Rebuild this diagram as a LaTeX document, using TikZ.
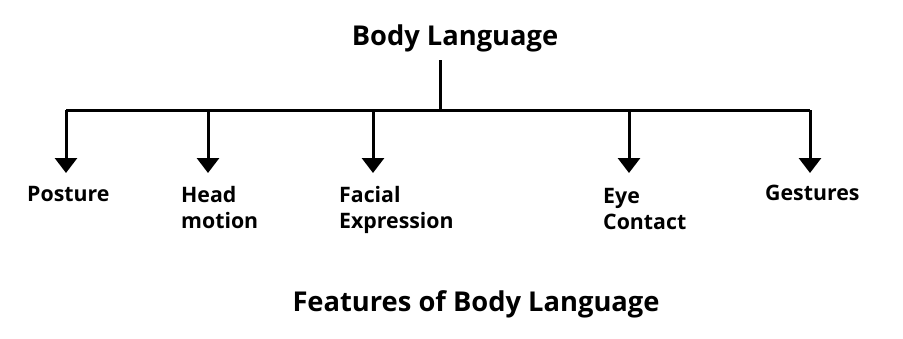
\documentclass[tikz,border=0pt]{standalone}
\usepackage{fontspec}
\setmainfont{Open Sans}
\usetikzlibrary{positioning,arrows.meta}

\begin{document}
\begin{tikzpicture}[
  x=1pt, y=-1pt,
  title/.style={font=\fontsize{27.3}{33}\selectfont\bfseries, inner sep=0pt},
  item/.style={font=\fontsize{21.3}{26}\selectfont\bfseries, align=left,
               anchor=north west, inner sep=0pt},
  wire/.style={line width=3pt},
  arr/.style={wire, -{Triangle[width=22pt,length=15pt]}}
]
  \useasboundingbox (0,0) rectangle (903,338);
  \node[title, anchor=base] (root) at (455,45) {Body Language};
  \coordinate (stem) at (440,60);
  \coordinate (hub) at (440,110);
  \coordinate (busL) at (66,110);
  \coordinate (busR) at (810,110);
  \draw[wire] (stem) -- (hub);
  \draw[wire] (busL) -- (busR);

  % feature labels
  \node[item] (posture) at (27,186) {Posture};
  \node[item] (head) at (181,186) {Head\\motion};
  \node[item] (facial) at (339,186) {Facial\\Expression};
  \node[item] (eye) at (603,188) {Eye\\Contact};
  \node[item] (gestures) at (765,185) {Gestures};

  \foreach \x/\n in {66/posture,208/head,373/facial,629/eye,810/gestures}{
    \coordinate (\n-top) at (\x,110);
    \coordinate (\n-in) at (\x,173);
    \draw[arr] (\n-top) -- (\n-in);
  }

  \node[title, anchor=base] (caption) at (476,311) {Features of Body Language};
\end{tikzpicture}
\end{document}
